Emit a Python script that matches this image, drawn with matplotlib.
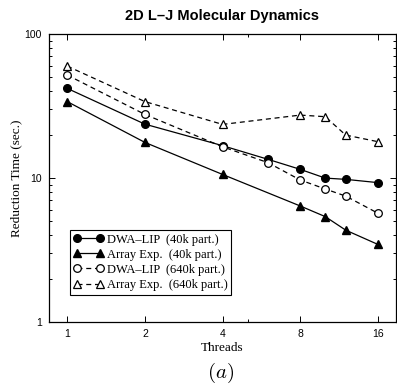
import matplotlib
matplotlib.use("Agg")
import matplotlib.pyplot as plt
from matplotlib.ticker import FixedLocator, NullFormatter

plt.rcParams["mathtext.fontset"] = "cm"

threads_a = [1, 2, 4, 6, 8, 10, 12, 16]
threads_b = [1, 2, 4, 8, 10, 12, 16]

dwa_40k = [42, 23.7, 16.8, 13.5, 11.5, 10.0, 9.8, 9.3]
arr_40k = [34, 17.7, 10.6, 6.4, 5.4, 4.35, 3.46]
dwa_640k = [52, 27.7, 16.5, 12.8, 9.7, 8.4, 7.5, 5.7]
arr_640k = [60, 34, 23.6, 27.4, 26.7, 19.9, 17.9]

labels = ["DWA\u2013LIP  (40k part.)", "Array Exp.  (40k part.)",
          "DWA\u2013LIP  (640k part.)", "Array Exp.  (640k part.)"]
xticks = [1, 2, 4, 8, 16]
yticks = [1, 10, 100]

fig = plt.figure(figsize=(3.97, 3.88), dpi=100)
ax = fig.add_axes([0.1234, 0.170, 0.8741, 0.742])

lw = 0.9
ms = 5.5
ax.plot(threads_a, dwa_40k, "-", color="black", lw=lw, marker="o", ms=ms,
        label=labels[0])
ax.plot(threads_b, arr_40k, "-", color="black", lw=lw, marker="^", ms=ms,
        label=labels[1])
ax.plot(threads_a, dwa_640k, "--", color="black", lw=lw, marker="o", ms=ms,
        mfc="white", mew=0.9, dashes=(4, 3), label=labels[2])
ax.plot(threads_b, arr_640k, "--", color="black", lw=lw, marker="^", ms=ms,
        mfc="white", mew=0.9, dashes=(4, 3), label=labels[3])

ax.set_xscale("log", base=2)
ax.set_yscale("log")
ax.set_xlim(0.85, 18.8)
ax.set_ylim(1, 100)

ax.xaxis.set_major_locator(FixedLocator(xticks))
ax.set_xticklabels([str(t) for t in xticks])
ax.xaxis.set_minor_locator(FixedLocator([5]))
ax.xaxis.set_minor_formatter(NullFormatter())
ax.yaxis.set_major_locator(FixedLocator(yticks))
ax.set_yticklabels([str(t) for t in yticks])
ax.tick_params(which="both", direction="in", top=True, right=True,
               labelsize=7.5, width=0.7)
ax.tick_params(which="major", length=4, pad=5)
ax.tick_params(which="minor", length=2.5)
for lab in ax.get_xticklabels() + ax.get_yticklabels():
    lab.set_family("Liberation Sans")
for s in ax.spines.values():
    s.set_linewidth(0.9)

ax.set_xlabel("Threads", family="Liberation Serif", fontsize=9.5, labelpad=2)
ax.set_ylabel("Reduction Time (sec.)", family="Liberation Serif", fontsize=9.5,
              labelpad=2)
ax.set_title("2D L\u2013J Molecular Dynamics", family="Liberation Sans",
             fontweight="bold", fontsize=10.5, pad=10)

leg = ax.legend(loc="lower left", bbox_to_anchor=(0.06, 0.095),
                prop={"family": "Liberation Serif", "size": 9},
                numpoints=2, handlelength=2.4, handletextpad=0.25,
                labelspacing=0.25, borderpad=0.3, fancybox=False,
                framealpha=1, edgecolor="black", borderaxespad=0)
leg.get_frame().set_linewidth(0.8)

fig.text(0.555, 0.04, "$(a)$", ha="center", va="center", fontsize=15)

fig.savefig("out.png", dpi=100)
